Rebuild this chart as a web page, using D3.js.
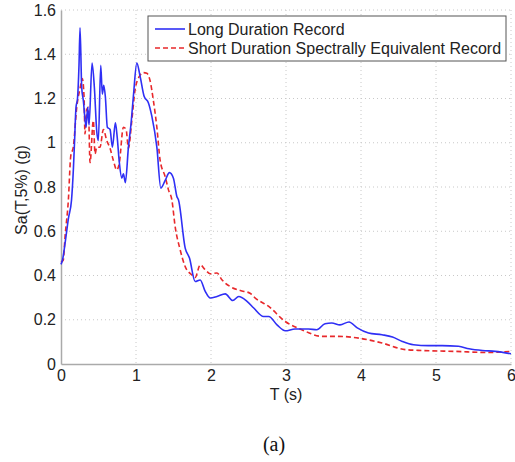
<!DOCTYPE html>
<html>
<head>
<meta charset="utf-8">
<script src="https://cdn.jsdelivr.net/npm/d3@7"></script>
<style>
  html, body { margin: 0; padding: 0; background: #fff; }
  svg { display: block; }
</style>
</head>
<body>
<script>
// ---- Data ----
const xTicks = [0, 1, 2, 3, 4, 5, 6];
const yTicks = [0, 0.2, 0.4, 0.6, 0.8, 1, 1.2, 1.4, 1.6];
const yTickLabels = ["0", "0.2", "0.4", "0.6", "0.8", "1", "1.2", "1.4", "1.6"];
const seriesNames = ["Long Duration Record", "Short Duration Spectrally Equivalent Record"];

const longT  = [0, 0.02, 0.06, 0.10, 0.14, 0.165, 0.18, 0.20, 0.22, 0.24, 0.254, 0.276, 0.298, 0.334, 0.356, 0.374, 0.414, 0.445, 0.477, 0.498, 0.530, 0.551, 0.570, 0.591, 0.618, 0.654, 0.685, 0.725, 0.748, 0.778, 0.810, 0.832, 0.858, 0.899, 0.935, 0.965, 1.011, 1.055, 1.108, 1.166, 1.211, 1.278, 1.331, 1.389, 1.446, 1.499, 1.545, 1.566, 1.656, 1.713, 1.789, 1.856, 1.923, 1.99, 2.08, 2.19, 2.29, 2.37, 2.48, 2.57, 2.70, 2.77, 2.88, 2.99, 3.12, 3.30, 3.41, 3.52, 3.61, 3.72, 3.84, 3.95, 4.10, 4.28, 4.42, 4.55, 4.70, 4.90, 5.08, 5.30, 5.44, 5.62, 5.79, 6.0];
const longSa = [0.45, 0.47, 0.56, 0.66, 0.74, 0.88, 1.00, 1.16, 1.20, 1.35, 1.52, 1.25, 1.19, 1.07, 1.16, 1.08, 1.36, 1.25, 1.05, 1.01, 1.35, 1.22, 1.26, 1.21, 1.07, 1.06, 0.98, 1.09, 1.03, 0.91, 0.84, 0.86, 0.82, 0.98, 1.09, 1.21, 1.36, 1.30, 1.21, 1.18, 1.12, 0.98, 0.795, 0.83, 0.865, 0.84, 0.757, 0.742, 0.524, 0.479, 0.373, 0.38, 0.328, 0.298, 0.305, 0.317, 0.287, 0.305, 0.283, 0.253, 0.215, 0.215, 0.177, 0.15, 0.158, 0.158, 0.155, 0.182, 0.185, 0.177, 0.19, 0.163, 0.14, 0.132, 0.122, 0.102, 0.087, 0.083, 0.083, 0.08, 0.069, 0.061, 0.057, 0.046];

const shortT  = [0, 0.03, 0.055, 0.098, 0.13, 0.164, 0.21, 0.254, 0.284, 0.307, 0.32, 0.343, 0.365, 0.387, 0.431, 0.454, 0.477, 0.52, 0.565, 0.61, 0.654, 0.698, 0.744, 0.778, 0.832, 0.868, 0.899, 0.944, 0.988, 1.045, 1.099, 1.144, 1.188, 1.232, 1.278, 1.322, 1.389, 1.433, 1.478, 1.522, 1.589, 1.656, 1.745, 1.789, 1.856, 1.923, 1.99, 2.08, 2.145, 2.256, 2.39, 2.52, 2.59, 2.77, 2.99, 3.21, 3.48, 3.70, 3.97, 4.28, 4.59, 4.82, 5.26, 5.70, 6.0];
const shortSa = [0.46, 0.47, 0.58, 0.74, 0.94, 0.98, 1.16, 1.246, 1.29, 1.21, 1.04, 1.15, 1.16, 0.91, 1.10, 0.95, 0.98, 0.98, 1.06, 1.01, 0.975, 0.92, 0.877, 0.91, 1.07, 1.06, 0.975, 1.10, 1.24, 1.30, 1.317, 1.314, 1.28, 1.19, 1.07, 0.92, 0.847, 0.787, 0.742, 0.621, 0.516, 0.44, 0.403, 0.391, 0.448, 0.426, 0.408, 0.411, 0.381, 0.35, 0.332, 0.32, 0.298, 0.26, 0.192, 0.155, 0.125, 0.125, 0.117, 0.095, 0.065, 0.061, 0.057, 0.052, 0.057];

// ---- Layout ----
const W = 515, H = 462;
const margin = { left: 61, top: 10 };
const iw = 511 - 61, ih = 364 - 10;

const svg = d3.select("body").append("svg").attr("width", W).attr("height", H);
const g = svg.append("g").attr("transform", `translate(${margin.left},${margin.top})`);

const x = d3.scaleLinear().domain([0, 6]).range([0, iw]);
const y = d3.scaleLinear().domain([0, 1.6]).range([ih, 0]);

// grid
const gridColor = "#c8c8c8";
g.selectAll(".gx").data(xTicks.slice(1)).join("line")
  .attr("x1", d => x(d)).attr("x2", d => x(d)).attr("y1", 0).attr("y2", ih)
  .attr("stroke", gridColor).attr("stroke-width", 1).attr("stroke-dasharray", "1,3");
g.selectAll(".gy").data(yTicks.slice(1)).join("line")
  .attr("x1", 0).attr("x2", iw).attr("y1", d => y(d)).attr("y2", d => y(d))
  .attr("stroke", gridColor).attr("stroke-width", 1).attr("stroke-dasharray", "1,3");

// axes
const fontFam = "'Liberation Sans', Arial, sans-serif";
const xAxis = g.append("g").attr("transform", `translate(0,${ih})`)
  .call(d3.axisBottom(x).tickValues(xTicks).tickFormat(d3.format("d")).tickSize(0).tickPadding(6));
const yAxis = g.append("g")
  .call(d3.axisLeft(y).tickValues(yTicks).tickFormat((d, i) => yTickLabels[i]).tickSize(0).tickPadding(5));
[xAxis, yAxis].forEach(a => {
  a.select(".domain").attr("stroke", "#aaaaaa").attr("stroke-width", 1.5);
  a.selectAll("text").attr("font-family", fontFam).attr("font-size", 16).attr("fill", "#222");
});

// lines
const line = d3.line().x(d => x(d[0])).y(d => y(d[1])).curve(d3.curveMonotoneX);
const longData = longT.map((t, i) => [t, longSa[i]]);
const shortData = shortT.map((t, i) => [t, shortSa[i]]);

g.append("path").datum(shortData).attr("d", line)
  .attr("fill", "none").attr("stroke", "#e8282b").attr("stroke-width", 1.6)
  .attr("stroke-dasharray", "5,3");
g.append("path").datum(longData).attr("d", line)
  .attr("fill", "none").attr("stroke", "#2f2ff5").attr("stroke-width", 1.6);

// axis labels
svg.append("text").attr("x", (61 + 511) / 2).attr("y", 400).attr("text-anchor", "middle")
  .attr("font-family", fontFam).attr("font-size", 16).attr("fill", "#222").text("T (s)");
svg.append("text").attr("transform", `translate(27,${(10 + 364) / 2 + 3}) rotate(-90)`)
  .attr("text-anchor", "middle").attr("font-family", fontFam).attr("font-size", 16).attr("fill", "#222")
  .text("Sa(T,5%) (g)");
svg.append("text").attr("x", 274).attr("y", 451).attr("text-anchor", "middle")
  .attr("font-family", "'Liberation Serif', 'Times New Roman', serif").attr("font-size", 20).attr("fill", "#111")
  .text("(a)");

// legend
const lg = svg.append("g").attr("transform", "translate(148,16)");
lg.append("rect").attr("width", 358).attr("height", 45).attr("fill", "#fff")
  .attr("stroke", "#555").attr("stroke-width", 1);
const legendItems = [
  { name: seriesNames[0], color: "#2f2ff5", dash: null },
  { name: seriesNames[1], color: "#e8282b", dash: "5,3" }
];
legendItems.forEach((it, i) => {
  const yy = 13 + i * 19;
  lg.append("line").attr("x1", 7).attr("x2", 37).attr("y1", yy).attr("y2", yy)
    .attr("stroke", it.color).attr("stroke-width", 1.6).attr("stroke-dasharray", it.dash);
  lg.append("text").attr("x", 40).attr("y", yy + 5.5).attr("font-family", fontFam)
    .attr("font-size", 16).attr("fill", "#222").text(it.name);
});
</script>
</body>
</html>
